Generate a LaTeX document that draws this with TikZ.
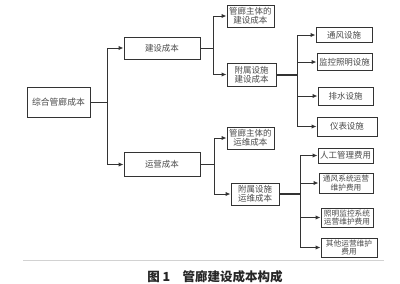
\documentclass[tikz,border=0pt]{standalone}
\usepackage{fontspec}
\setmainfont{Noto Sans CJK SC}
\newfontfamily\cjkfont{Noto Sans CJK SC}
\usetikzlibrary{arrows.meta}
\definecolor{boxline}{HTML}{333333}
\definecolor{boxtext}{HTML}{4A4A4A}
\tikzset{
  box/.style={draw=boxline, line width=1pt, inner sep=0pt, align=center,
    text=boxtext, font=\cjkfont\fontsize{8.5}{8.8}\selectfont},
  smallbox/.style={box, font=\cjkfont\fontsize{7.7}{8.2}\selectfont},
  conn/.style={draw=boxline, line width=1pt},
  arr/.style={conn, -{Latex[length=5pt,width=4.5pt]}},
  thickconn/.style={draw=boxline, line width=2pt}
}
\begin{document}
\begin{tikzpicture}[x=1pt,y=-1pt]
\useasboundingbox (0,0) rectangle (400,284);
% level 0
\node[box, minimum width=63pt, minimum height=30pt, font=\cjkfont\fontsize{8.8}{9}\selectfont] (root) at (58.5,102) {综合管廊成本};
% level 1
\node[box, minimum width=76pt, minimum height=22pt] (jsc) at (162,48) {建设成本};
\node[box, minimum width=76pt, minimum height=24pt] (yy) at (162,164.5) {运营成本};
% level 2
\node[box, minimum width=47pt, minimum height=22pt] (jz) at (250.5,16) {管廊主体的\\建设成本};
\node[box, minimum width=49pt, minimum height=23pt] (jf) at (251.5,74.5) {附属设施\\建设成本};
\node[box, minimum width=47pt, minimum height=22pt] (yz) at (250.5,138) {管廊主体的\\运维成本};
\node[box, minimum width=48pt, minimum height=22pt] (yf) at (255,194) {附属设施\\运维成本};
% level 3 (construction)
\node[box, minimum width=56pt, minimum height=15pt] (a1) at (344,35) {通风设施};
\node[box, minimum width=55pt, minimum height=17pt] (a2) at (344.5,62) {监控照明设施};
\node[box, minimum width=55pt, minimum height=18pt] (a3) at (345.5,96) {排水设施};
\node[box, minimum width=60pt, minimum height=19pt] (a4) at (347,126.5) {仪表设施};
% level 3 (operation)
\node[box, minimum width=55pt, minimum height=15pt] (b1) at (345.5,155.5) {人工管理费用};
\node[smallbox, minimum width=54pt, minimum height=20pt] (b2) at (346,183) {通风系统运营\\维护费用};
\node[smallbox, minimum width=52pt, minimum height=19pt] (b3) at (347,217.5) {照明监控系统\\运营维护费用};
\node[smallbox, minimum width=56pt, minimum height=19pt] (b4) at (349,247.5) {其他运营维护\\费用};
% junction points
\coordinate (t0) at (107,102);
\coordinate (s1) at (213,48);
\coordinate (s2) at (214,164.5);
\coordinate (u1) at (297,74.5);
\coordinate (u2) at (300,194);
% connectors
\draw[conn] (root.east) -- (t0);
\draw[arr] (t0) |- (jsc.west);
\draw[arr] (t0) |- (yy.west);
\draw[conn] (jsc.east) -- (s1);
\draw[arr] (s1) |- (jz.west);
\draw[arr] (s1) |- (jf.west);
\draw[conn] (yy.east) -- (s2);
\draw[arr] (s2) |- (yz.west);
\draw[arr] (s2) |- (yf.west);
\draw[thickconn] (jf.east) -- (u1);
\draw[arr] (u1) |- (a1.west);
\draw[arr] (u1) |- (a2.west);
\draw[arr] (u1) |- (a3.west);
\draw[arr] (u1) |- (a4.west);
\draw[thickconn] (yf.east) -- (u2);
\draw[arr] (u2) |- (b1.west);
\draw[arr] (u2) |- (b2.west);
\draw[arr] (u2) |- (b3.west);
\draw[arr] (u2) |- (b4.west);
% separator and caption
\draw[gray!35, line width=1pt] (23,260.5) -- (384,260.5);
\node[inner sep=0pt, anchor=center, text=black!85,
  font={\cjkfont\bfseries\fontsize{12.5}{13}\selectfont}] (cap) at (215,276.5) {图 1\hspace{1em}管廊建设成本构成};
\end{tikzpicture}
\end{document}
